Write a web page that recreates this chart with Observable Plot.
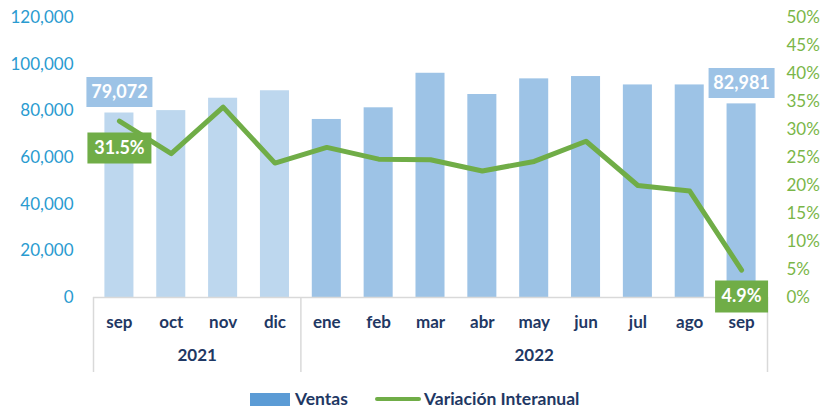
<!DOCTYPE html>
<html>
<head>
<meta charset="utf-8">
<script src="https://cdn.jsdelivr.net/npm/d3@7"></script>
<script src="https://cdn.jsdelivr.net/npm/@observablehq/plot@0.6"></script>
<style>
  html, body { margin: 0; padding: 0; background: #fff; }
  #wrap { position: relative; width: 821px; height: 409px; overflow: hidden; font-family: Lato, "Open Sans", sans-serif; }
  #legend { position: absolute; left: 250px; top: 390px; height: 18px; line-height: 18px; display: flex; align-items: center; font-size: 17.5px; font-weight: bold; color: #1F3864; }
  .sw-bar { width: 40px; height: 13px; background: #5B9BD5; margin-right: 5px; }
  .sw-line { width: 46px; height: 4px; background: #70AD47; border-radius: 2px; margin: 0 3px 0 27px; }
</style>
</head>
<body>
<div id="wrap">
  <div id="chart"></div>
  <div id="legend"><span class="sw-bar"></span><span>Ventas</span><span class="sw-line"></span><span>Variación Interanual</span></div>
</div>
<script>
// ---- data ----
const months = ["sep","oct","nov","dic","ene","feb","mar","abr","may","jun","jul","ago","sep"];
const years = [2021,2021,2021,2021,2022,2022,2022,2022,2022,2022,2022,2022,2022];
const ventas = [79072, 80100, 85400, 88600, 76300, 81300, 96100, 87000, 93700, 94700, 91100, 91100, 82981];
const variacion = [31.5, 25.7, 34.0, 24.0, 26.8, 24.7, 24.6, 22.6, 24.3, 27.9, 20.0, 19.0, 4.9];
const leftTicks = [0, 20000, 40000, 60000, 80000, 100000, 120000];
const pctTicks = [0, 5, 10, 15, 20, 25, 30, 35, 40, 45, 50];
const yearLabels = ["2021", "2022"];

// ---- layout ----
const W = 821, H = 385;
const mL = 93, mR = 54, mT = 17, mB = 88;
const step = (W - mL - mR) / months.length;
const yMax = 120000, pMax = 50, k = yMax / pMax; // percent -> left scale

const data = months.map((m, i) => ({key: years[i] + "-" + m + "-" + i, month: m, year: years[i], ventas: ventas[i], pct: variacion[i]}));
const keys = data.map(d => d.key);
const first = data[0], last = data[data.length - 1];

const boxSym = (w, h) => ({draw(ctx) { ctx.rect(-w / 2, -h / 2, w, h); }});
const below = -(75 / (H - mT - mB)) * yMax; // depth of the grouped axis separators

// year label anchors (center of each year's group)
const groups = yearLabels.map(y => {
  const idx = data.map((d, i) => i).filter(i => String(data[i].year) === y);
  const mid = (idx[0] + idx[idx.length - 1]) / 2;
  return {year: y, key: keys[Math.floor(mid)], dx: (mid - Math.floor(mid)) * step};
});

const fmt = d3.format(",");
const pctFmt = d => d.toFixed(1) + "%";

const marks = [
  Plot.barY(data, {x: "key", y: "ventas", fill: d => d.year === 2021 ? "#BDD7EE" : "#9DC3E6"}),
  Plot.ruleY([0], {stroke: "#d9d9d9", strokeWidth: 1.5}),
  Plot.ruleX([keys[0], keys[4]], {y1: 0, y2: below, dx: -step / 2, stroke: "#d9d9d9", strokeWidth: 1.5}),
  Plot.ruleX([keys[keys.length - 1]], {y1: 0, y2: below, dx: step / 2, stroke: "#d9d9d9", strokeWidth: 1.5}),
  Plot.axisX({tickSize: 0, tickPadding: 18, fontSize: 17, fontWeight: "bold", color: "#1F3864", tickFormat: kk => kk.split("-")[1], label: null}),
  ...groups.map(g => Plot.text([g], {x: "key", text: "year", frameAnchor: "bottom", dy: 63, dx: g.dx, fontSize: 17, fontWeight: "bold", fill: "#1F3864"})),
  Plot.axisY({anchor: "left", ticks: leftTicks, tickSize: 0, tickPadding: 20, tickFormat: fmt, fontSize: 17, color: "#2A9BD0", label: null}),
  Plot.axisY({anchor: "right", ticks: pctTicks.map(p => p * k), tickSize: 0, tickPadding: 19, tickFormat: v => Math.round(v / k) + "%", fontSize: 17, color: "#7AB648", label: null}),
  Plot.lineY(data, {x: "key", y: d => d.pct * k, stroke: "#70AD47", strokeWidth: 5, strokeLinejoin: "round", strokeLinecap: "round"}),
  // value labels for first and last bars
  ...[first, last].map(d => Plot.dot([d], {x: "key", y: "ventas", r: 5, symbol: boxSym(66, 30), fill: "#9DC3E6", stroke: "none", dy: -21})),
  Plot.text([first, last], {x: "key", y: "ventas", text: d => fmt(d.ventas), dy: -21, fill: "white", fontWeight: "bold", fontSize: 18}),
  // labels for first and last percent
  Plot.dot([first], {x: "key", y: d => d.pct * k, r: 5, symbol: boxSym(64, 31), fill: "#70AD47", stroke: "none", dy: 27}),
  Plot.dot([last], {x: "key", y: d => d.pct * k, r: 5, symbol: boxSym(53, 32), fill: "#70AD47", stroke: "none", dy: 26.5}),
  Plot.text([first], {x: "key", y: d => d.pct * k, text: d => pctFmt(d.pct), dy: 27, fill: "white", fontWeight: "bold", fontSize: 18}),
  Plot.text([last], {x: "key", y: d => d.pct * k, text: d => pctFmt(d.pct), dy: 26.5, fill: "white", fontWeight: "bold", fontSize: 18})
];

const chart = Plot.plot({
  width: W, height: H,
  marginLeft: mL, marginRight: mR, marginTop: mT, marginBottom: mB,
  style: {fontFamily: "Lato, 'Open Sans', sans-serif", background: "white", overflow: "visible"},
  x: {type: "band", domain: keys, paddingInner: 0.44, paddingOuter: 0.22, round: false, label: null},
  y: {domain: [0, yMax], label: null},
  marks
});
document.getElementById("chart").appendChild(chart);
</script>
</body>
</html>
